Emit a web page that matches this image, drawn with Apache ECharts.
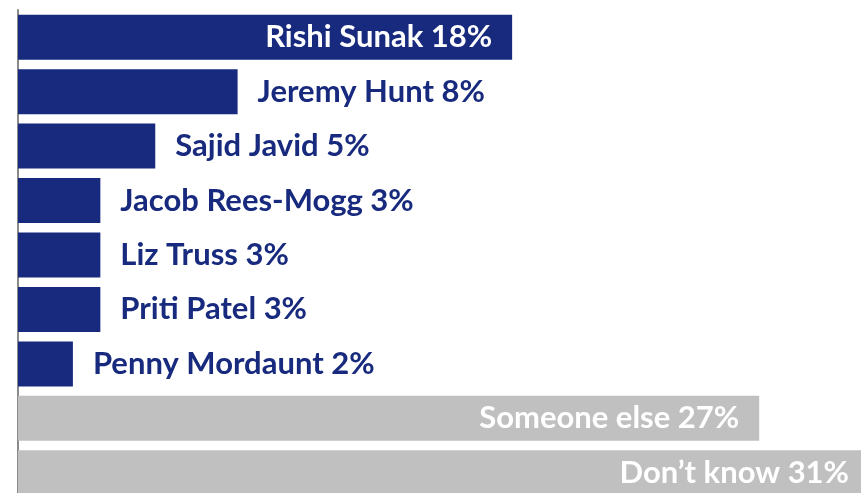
<!DOCTYPE html>
<html>
<head>
<meta charset="utf-8">
<script src="https://cdn.jsdelivr.net/npm/echarts@6/dist/echarts.min.js"></script>
<style>
html,body{margin:0;padding:0;background:#fff;}
#main{width:861px;height:493px;}
</style>
</head>
<body>
<div id="main"></div>
<script>
// 候选人及支持率
var names = ['Rishi Sunak', 'Jeremy Hunt', 'Sajid Javid', 'Jacob Rees-Mogg', 'Liz Truss', 'Priti Patel', 'Penny Mordaunt', 'Someone else', 'Don\u2019t know'];
var values = [18, 8, 5, 3, 3, 3, 2, 27, 31];
var groups = ['candidate', 'candidate', 'candidate', 'candidate', 'candidate', 'candidate', 'candidate', 'other', 'other'];

var navy = '#182a7e';
var grey = '#c0c0c0';

var seriesData = [];
for (var i = 0; i < values.length; i++) {
  var isOther = groups[i] == 'other';
  var inside = isOther || values[i] >= 10;
  seriesData.push({
    value: values[i],
    itemStyle: {color: isOther ? grey : navy},
    label: {
      position: inside ? 'insideRight' : 'right',
      color: inside ? '#ffffff' : navy
    }
  });
}

var myChart = echarts.init(document.getElementById('main'));
var option = {
  animation: false,
  grid: {left: 18, top: 10, width: 851, height: 490, outerBoundsMode: 'none', containLabel: false},
  xAxis: {
    type: 'value',
    min: 0,
    max: 31,
    show: false
  },
  yAxis: {
    type: 'category',
    inverse: true,
    data: names,
    axisLine: {show: true, lineStyle: {color: '#8a8a8a', width: 2}},
    axisTick: {show: false},
    axisLabel: {show: false}
  },
  series: [{
    type: 'bar',
    barWidth: 45,
    clip: false,
    data: seriesData,
    label: {
      show: true,
      distance: 20,
      fontFamily: 'Lato',
      fontWeight: 'bold',
      fontSize: 31,
      formatter: function (p) {
        return names[p.dataIndex] + ' ' + p.value + '%';
      }
    }
  }]
};
myChart.setOption(option);
</script>
</body>
</html>
